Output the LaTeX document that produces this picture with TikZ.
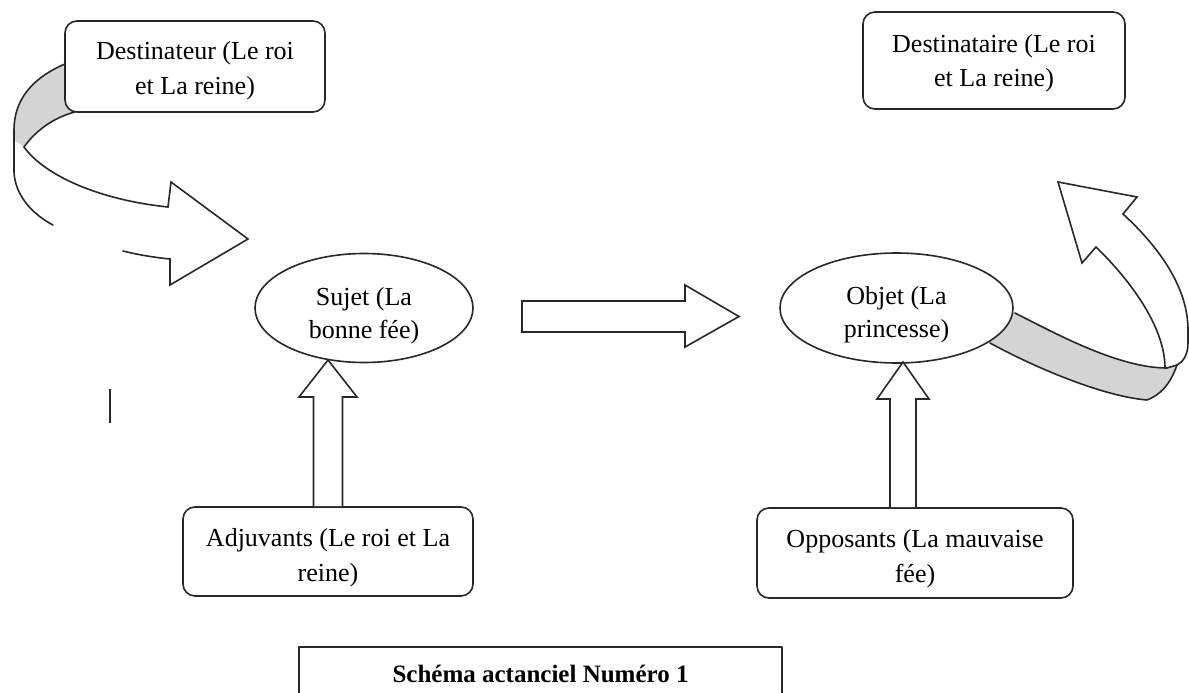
\documentclass[tikz,border=0pt]{standalone}
\usepackage{fontspec}
\setmainfont{Liberation Serif}
\usetikzlibrary{shapes.geometric,calc}
\definecolor{ink}{RGB}{40,40,40}
\definecolor{ribbongray}{RGB}{212,212,212}
% two centred lines, lowered inside their frame without changing its size
\newcommand\framedlines[2]{\raisebox{-#1}[\height][\depth]{\begin{tabular}{@{}c@{}}#2\end{tabular}}}
\begin{document}
\begin{tikzpicture}[x=1pt,y=-1pt,line width=1.6pt,line join=round,
  actant/.style={draw=ink, fill=white, rounded corners=12pt,
    inner sep=0pt, font=\fontsize{26}{35}\selectfont},
  oval/.style={ellipse, draw=ink, fill=white, inner sep=0pt,
    font=\fontsize{26}{33}\selectfont},
  blockarrow/.style={draw=ink, fill=white, line join=miter},
  ribbon/.style={draw=ink, line cap=round},
  backside/.style={fill=ribbongray, draw=none}]
\useasboundingbox (0,0) rectangle (1189,693);
\fill[white] (0,0) rectangle (1189,693);
\clip (0,0) rectangle (1189,693);

% left ribbon arrow (sender -> subject), drawn behind the boxes
\path[backside] (65,64) .. controls (32,78) and (14,100) .. (14,130) -- (14,140)
  -- (24,147) .. controls (36,130) and (55,117) .. (75,112) -- (85,95) -- (80,70) -- cycle;
\draw[ribbon] (65,64) .. controls (32,78) and (14,100) .. (14,130) -- (14,172)
  .. controls (15,195) and (32,214) .. (53,225);
\draw[ribbon] (75,112) .. controls (55,117) and (36,130) .. (24,147);
\draw[ribbon, line join=miter] (24,147) .. controls (45,176) and (100,200) .. (168,207)
  -- (171,182) -- (248,239) -- (170,285) -- (170,259)
  .. controls (150,257) and (135,254) .. (123,251);

% right ribbon arrow (object -> receiver)
\path[backside] (1000,300) -- (1015,313) .. controls (1060,336) and (1120,368) .. (1167,368)
  -- (1177,365) .. controls (1170,385) and (1160,395) .. (1147,400)
  .. controls (1100,396) and (1030,365) .. (990,343) -- (960,320) -- cycle;
\draw[ribbon] (1015,313) .. controls (1060,336) and (1120,368) .. (1167,368) -- (1177,365);
\draw[ribbon] (1177,365) .. controls (1170,385) and (1160,395) .. (1147,400)
  .. controls (1100,396) and (1030,365) .. (990,343);
\draw[ribbon, line join=miter] (1165,368) .. controls (1165,330) and (1135,285) .. (1096,247)
  -- (1082,263) -- (1058,182) -- (1137,197) -- (1123,214)
  .. controls (1160,248) and (1188,288) .. (1188,330) -- (1188,343)
  .. controls (1188,355) and (1183,362) .. (1177,365);

% actants
\node[actant, minimum width=260pt, minimum height=91pt] (dest) at (195,66.5)
  {\framedlines{4pt}{Destinateur (Le roi\\et La reine)}};
\node[actant, minimum width=262pt, minimum height=97pt] (destre) at (994,60.5)
  {\framedlines{2pt}{Destinataire (Le roi\\et La reine)}};
\node[oval, minimum width=218pt, minimum height=109pt] (sujet) at (364,308)
  {\framedlines{7pt}{Sujet (La\\bonne fée)}};
\node[oval, minimum width=233pt, minimum height=110pt] (objet) at (896.5,308)
  {\framedlines{6pt}{Objet (La\\princesse)}};
\node[actant, minimum width=290pt, minimum height=89pt] (adj) at (328,551.5)
  {\framedlines{5pt}{Adjuvants (Le roi et La\\reine)}};
\node[actant, minimum width=316pt, minimum height=90pt] (opp) at (915,553)
  {\framedlines{5pt}{Opposants (La mauvaise\\fée)}};

% quest arrow between subject and object
\draw[blockarrow] (522,301) -- (685,301) -- (685,285) -- (739,316.5)
  -- (685,347) -- (685,332) -- (522,332) -- cycle;

% helper arrows
\draw[blockarrow] ([xshift=-14.5pt]adj.north) |- (299,397) -- (328,360)
  -- (357,397) -| ([xshift=14.5pt]adj.north);
\draw[blockarrow] ([xshift=-25pt]opp.north) |- (877,399) -- (903,362)
  -- (929,399) -| ([xshift=1pt]opp.north);

% stray mark
\draw[ink, line width=2pt] (110,389) -- (110,423);

% caption
\node[draw=ink, anchor=north, minimum width=483pt, inner xsep=0pt, inner ysep=16pt,
  text height=20pt, text depth=40pt, font=\fontsize{25}{30}\selectfont\bfseries]
  (caption) at (540.5,646) {Schéma actanciel Numéro 1};
\end{tikzpicture}
\end{document}
